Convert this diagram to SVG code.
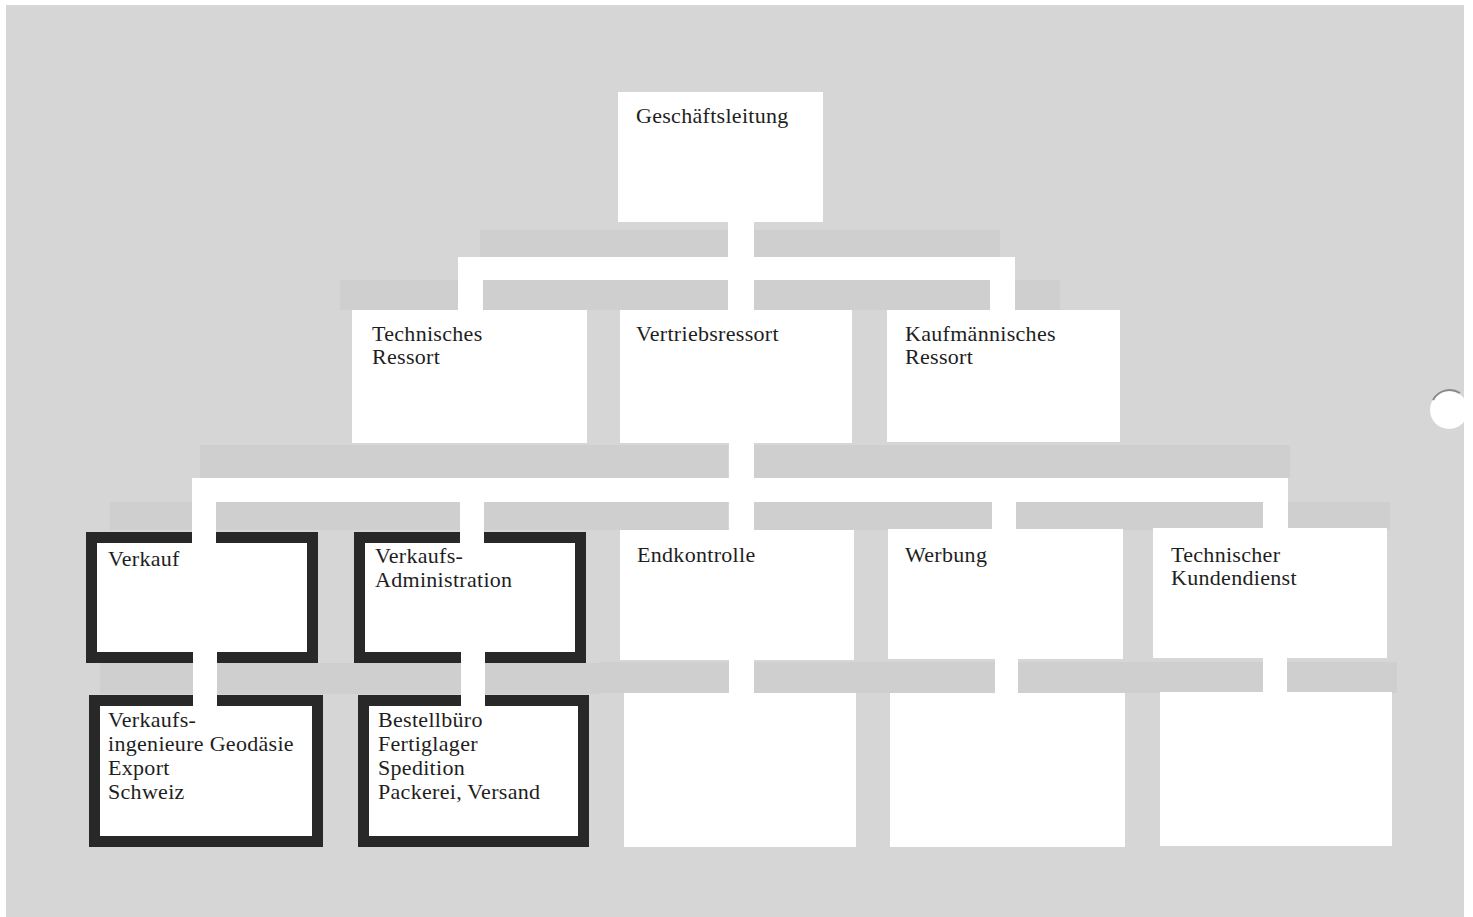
<svg xmlns="http://www.w3.org/2000/svg" width="1473" height="917" viewBox="0 0 1473 917">
<style>
.bg{fill:#d6d6d6}
.band{fill:#cfcfcf}
.box{fill:#ffffff}
.bold{fill:#ffffff;stroke:#282828;stroke-width:11}
.con{fill:#ffffff}
text{font-family:"Liberation Serif","Times New Roman",serif;font-size:22px;fill:#1e1e1e;letter-spacing:0.3px}
</style>
<rect x="0" y="0" width="1473" height="917" fill="#ffffff"/>
<rect class="bg" x="6" y="5" width="1458" height="912"/>
<g id="bands">
<rect class="band" x="480" y="230" width="248" height="27"/>
<rect class="band" x="754" y="230" width="246" height="27"/>
<rect class="band" x="340" y="280" width="118" height="30"/>
<rect class="band" x="483" y="280" width="245" height="30"/>
<rect class="band" x="754" y="280" width="236" height="30"/>
<rect class="band" x="1015" y="280" width="45" height="30"/>
<rect class="band" x="200" y="445" width="528" height="33"/>
<rect class="band" x="754" y="445" width="536" height="33"/>
<rect class="band" x="110" y="502" width="82" height="28"/>
<rect class="band" x="216" y="502" width="244" height="28"/>
<rect class="band" x="484" y="502" width="244" height="28"/>
<rect class="band" x="754" y="502" width="238" height="28"/>
<rect class="band" x="1016" y="502" width="247" height="28"/>
<rect class="band" x="1288" y="502" width="102" height="28"/>
<rect class="band" x="100" y="663" width="93" height="31"/>
<rect class="band" x="217" y="663" width="244" height="31"/>
<rect class="band" x="485" y="663" width="115" height="31"/>
<rect class="band" x="600" y="662" width="129" height="31"/>
<rect class="band" x="754" y="662" width="241" height="31"/>
<rect class="band" x="1018" y="662" width="245" height="31"/>
<rect class="band" x="1287" y="662" width="110" height="31"/>
</g>
<g id="punch-hole">
<circle cx="1449" cy="410" r="19" fill="#ffffff"/>
<path d="M1433 400 A19 19 0 0 1 1460 393" fill="none" stroke="#8a8a8a" stroke-width="2"/>
<rect x="1464" y="380" width="9" height="60" fill="#ffffff"/>
</g>
<g id="n-geschaeftsleitung">
<rect class="box" x="618" y="92" width="205" height="130"/>
<text x="636" y="123">Geschäftsleitung</text>
</g>
<g id="n-technisches-ressort">
<rect class="box" x="352" y="310" width="235" height="133"/>
<text x="372" y="341">Technisches</text>
<text x="372" y="364">Ressort</text>
</g>
<g id="n-vertriebsressort">
<rect class="box" x="620" y="310" width="232" height="133"/>
<text x="636" y="341">Vertriebsressort</text>
</g>
<g id="n-kaufmaennisches-ressort">
<rect class="box" x="887" y="310" width="233" height="132"/>
<text x="905" y="341">Kaufmännisches</text>
<text x="905" y="364">Ressort</text>
</g>
<g id="n-verkauf">
<rect class="bold" x="91.5" y="537.5" width="221" height="120"/>
<text x="108" y="566">Verkauf</text>
</g>
<g id="n-verkaufs-administration">
<rect class="bold" x="359.5" y="537.5" width="221" height="120"/>
<text x="375" y="563">Verkaufs-</text>
<text x="375" y="587">Administration</text>
</g>
<g id="n-endkontrolle">
<rect class="box" x="620" y="530" width="234" height="130"/>
<text x="637" y="562">Endkontrolle</text>
</g>
<g id="n-werbung">
<rect class="box" x="888" y="529" width="235" height="130"/>
<text x="905" y="562">Werbung</text>
</g>
<g id="n-technischer-kundendienst">
<rect class="box" x="1153" y="528" width="234" height="130"/>
<text x="1171" y="562">Technischer</text>
<text x="1171" y="585">Kundendienst</text>
</g>
<g id="n-verkaufsingenieure">
<rect class="bold" x="94.5" y="700.5" width="223" height="141"/>
<text x="108" y="727">Verkaufs-</text>
<text x="108" y="751">ingenieure Geodäsie</text>
<text x="108" y="775">Export</text>
<text x="108" y="799">Schweiz</text>
</g>
<g id="n-bestellbuero">
<rect class="bold" x="363.5" y="700.5" width="220" height="141"/>
<text x="378" y="727">Bestellbüro</text>
<text x="378" y="751">Fertiglager</text>
<text x="378" y="775">Spedition</text>
<text x="378" y="799">Packerei, Versand</text>
</g>
<g id="n-endkontrolle-sub">
<rect class="box" x="624" y="693" width="232" height="154"/>
</g>
<g id="n-werbung-sub">
<rect class="box" x="890" y="693" width="235" height="154"/>
</g>
<g id="n-kundendienst-sub">
<rect class="box" x="1160" y="692" width="232" height="154"/>
</g>
<g id="connectors">
<rect class="con" x="728" y="222" width="26" height="88"/>
<rect class="con" x="458" y="257" width="557" height="23"/>
<rect class="con" x="458" y="257" width="25" height="53"/>
<rect class="con" x="990" y="257" width="25" height="53"/>
<rect class="con" x="729" y="443" width="25" height="87"/>
<rect class="con" x="192" y="478" width="1096" height="24"/>
<rect class="con" x="192" y="478" width="24" height="66"/>
<rect class="con" x="460" y="478" width="24" height="66"/>
<rect class="con" x="992" y="478" width="24" height="52"/>
<rect class="con" x="1263" y="478" width="25" height="51"/>
<rect class="con" x="193" y="650" width="24" height="57"/>
<rect class="con" x="461" y="650" width="24" height="57"/>
<rect class="con" x="729" y="659" width="25" height="35"/>
<rect class="con" x="995" y="658" width="23" height="36"/>
<rect class="con" x="1263" y="657" width="24" height="36"/>
</g>
</svg>
